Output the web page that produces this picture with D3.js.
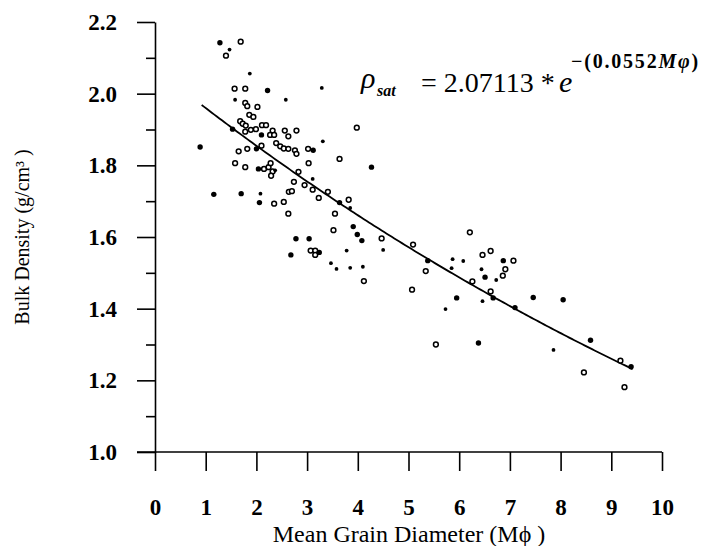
<!DOCTYPE html>
<html>
<head>
<meta charset="utf-8">
<script src="https://cdn.jsdelivr.net/npm/d3@7"></script>
<style>
  html, body { margin: 0; padding: 0; background: #fff; }
  svg { display: block; }
</style>
</head>
<body>
<svg id="chart" width="703" height="546"></svg>
<script>
// Samples drawn as hollow circles: [mean grain diameter (Mphi), bulk density g/cm3]
const hollowSamples = [
  [1.69,2.145],[1.40,2.106],[1.57,2.014],[1.78,2.014],[1.78,1.974],[1.82,1.965],[2.02,1.963],
  [1.86,1.941],[1.94,1.935],[1.68,1.923],[1.73,1.916],[1.79,1.911],[1.89,1.899],[1.99,1.901],
  [2.11,1.912],[2.19,1.912],[1.78,1.894],[2.32,1.897],[2.27,1.885],[2.35,1.885],[2.56,1.897],
  [2.63,1.881],[2.79,1.897],[1.65,1.839],[1.82,1.846],[2.10,1.855],[2.39,1.862],[2.47,1.853],
  [2.54,1.847],[2.63,1.846],[2.76,1.842],[2.79,1.832],[3.02,1.846],[3.64,1.818],[3.03,1.806],
  [1.58,1.806],[1.78,1.795],[2.15,1.790],[2.24,1.795],[2.28,1.806],[2.32,1.783],[2.29,1.771],
  [2.83,1.782],[2.74,1.754],[2.95,1.745],[3.41,1.726],[3.11,1.732],[2.64,1.726],[2.70,1.728],
  [3.23,1.709],[3.82,1.704],[2.35,1.693],[2.54,1.698],[2.63,1.665],[3.55,1.665],[3.52,1.619],
  [4.47,1.596],[3.07,1.562],[3.16,1.562],[3.16,1.550],[4.12,1.477],[5.09,1.579],[5.34,1.505],
  [5.07,1.453],[6.21,1.613],[6.46,1.550],[6.62,1.561],[7.07,1.534],[6.91,1.510],[6.86,1.492],
  [6.26,1.476],[6.62,1.448],[5.54,1.300],[9.18,1.255],[8.46,1.222],[9.26,1.181],[3.98,1.905]
];

// Samples drawn as solid dots
const solidSamples = [
  [1.28,2.142],[2.22,2.009],[1.53,1.901],[2.10,1.885],[0.89,1.851],[2.00,1.846],[3.12,1.842],
  [4.27,1.795],[2.04,1.790],[3.64,1.696],[1.16,1.719],[1.70,1.721],[2.06,1.696],[3.91,1.629],
  [3.99,1.607],[4.08,1.590],[2.78,1.595],[3.04,1.595],[3.24,1.557],[2.68,1.550],[5.38,1.534],
  [6.87,1.534],[6.51,1.488],[6.67,1.430],[5.95,1.430],[7.10,1.403],[7.46,1.431],[8.05,1.425],
  [6.38,1.304],[8.59,1.312],[9.39,1.238]
];

// Smaller solid dots
const smallSamples = [
  [1.47,2.123],[1.87,2.056],[3.29,2.016],[1.58,1.983],[2.58,1.983],[3.31,1.867],[2.37,1.786],
  [3.11,1.762],[2.08,1.721],[3.85,1.681],[3.78,1.562],[4.50,1.564],[3.47,1.527],[3.58,1.511],
  [3.85,1.514],[4.10,1.517],[5.87,1.538],[6.08,1.533],[5.85,1.513],[6.44,1.510],[6.73,1.480],
  [6.46,1.421],[5.73,1.399],[7.86,1.285]
];

// Exponential fit: rho_sat = A * exp(-B * Mphi)
const fitA = 2.07113;
const fitB = 0.0552;
const fitRange = [0.92, 9.43];

const xTicks = [0,1,2,3,4,5,6,7,8,9,10];
const yTicks = [1.0,1.2,1.4,1.6,1.8,2.0,2.2];
const yMinorTicks = [1.1,1.3,1.5,1.7,1.9,2.1];

const serif = "'Liberation Serif', 'Times New Roman', serif";
const svg = d3.select("#chart");
svg.append("rect").attr("width", 703).attr("height", 546).attr("fill", "#fff");

const x = d3.scaleLinear().domain([0, 10]).range([155, 662]);
const y = d3.scaleLinear().domain([1.0, 2.2]).range([452, 22]);

// Y axis with major ticks and labels
const yAxis = svg.append("g")
  .attr("transform", `translate(${x(0)},0)`)
  .call(d3.axisLeft(y).tickValues(yTicks).tickSize(18).tickSizeOuter(0)
    .tickPadding(20).tickFormat(d3.format(".1f")));
yAxis.select(".domain").attr("stroke-width", 1.6);
yAxis.selectAll(".tick line").attr("stroke-width", 1.6);
yAxis.selectAll(".tick text")
  .attr("font-family", serif).attr("font-size", 23).attr("font-weight", "bold").attr("fill", "#000");

// Y minor ticks
const yMinor = svg.append("g")
  .attr("transform", `translate(${x(0)},0)`)
  .call(d3.axisLeft(y).tickValues(yMinorTicks).tickSize(9).tickSizeOuter(0).tickFormat(""));
yMinor.select(".domain").remove();
yMinor.selectAll(".tick line").attr("stroke-width", 1.6);

// X axis
const xAxis = svg.append("g")
  .attr("transform", `translate(0,${y(1.0)})`)
  .call(d3.axisBottom(x).tickValues(xTicks).tickSize(19).tickSizeOuter(0).tickFormat(d3.format("d")));
xAxis.select(".domain").attr("d", `M137,0H${x(10)}`).attr("stroke-width", 1.6);
xAxis.selectAll(".tick line").attr("stroke-width", 1.6);
xAxis.selectAll(".tick text")
  .attr("y", 63).attr("dy", 0)
  .attr("font-family", serif).attr("font-size", 23).attr("font-weight", "bold").attr("fill", "#000");

// Axis titles
svg.append("text")
  .attr("x", 409).attr("y", 542)
  .attr("text-anchor", "middle")
  .attr("font-family", serif).attr("font-size", 24)
  .text("Mean Grain Diameter (M\u03D5 )");

svg.append("text")
  .attr("transform", "translate(29,237) rotate(-90)")
  .attr("text-anchor", "middle")
  .attr("font-family", serif).attr("font-size", 20)
  .text("Bulk Density (g/cm\u00B3 )");

// Fitted curve
const curvePts = d3.range(fitRange[0], fitRange[1] + 0.001, 0.05)
  .map(m => [m, fitA * Math.exp(-fitB * m)]);
svg.append("path")
  .attr("d", d3.line().x(d => x(d[0])).y(d => y(d[1]))(curvePts))
  .attr("fill", "none").attr("stroke", "#000").attr("stroke-width", 1.8);

// Points
svg.append("g").selectAll("circle").data(hollowSamples).join("circle")
  .attr("cx", d => x(d[0])).attr("cy", d => y(d[1])).attr("r", 2.4)
  .attr("fill", "#fff").attr("stroke", "#000").attr("stroke-width", 1.5);
svg.append("g").selectAll("circle").data(solidSamples).join("circle")
  .attr("cx", d => x(d[0])).attr("cy", d => y(d[1])).attr("r", 2.7).attr("fill", "#000");
svg.append("g").selectAll("circle").data(smallSamples).join("circle")
  .attr("cx", d => x(d[0])).attr("cy", d => y(d[1])).attr("r", 1.9).attr("fill", "#000");

// Fit equation
const eq = svg.append("g").attr("font-family", serif).attr("fill", "#000");
eq.append("text").attr("x", 361).attr("y", 88)
  .attr("font-size", 30).attr("font-style", "italic").text("\u03C1");
eq.append("text").attr("x", 377).attr("y", 96)
  .attr("font-size", 16).attr("font-style", "italic").attr("font-weight", "bold").text("sat");
eq.append("text").attr("x", 421).attr("y", 92)
  .attr("font-size", 28).text(`= ${fitA} *`);
eq.append("text").attr("x", 559).attr("y", 92)
  .attr("font-size", 30).attr("font-style", "italic").text("e");
const expo = eq.append("text").attr("x", 571).attr("y", 68)
  .attr("font-size", 20).attr("font-weight", "bold").attr("letter-spacing", 1.8);
expo.append("tspan").text(`\u2212(${fitB}`);
expo.append("tspan").attr("font-style", "italic").text("M\u03C6");
expo.append("tspan").text(")");
</script>
</body>
</html>
